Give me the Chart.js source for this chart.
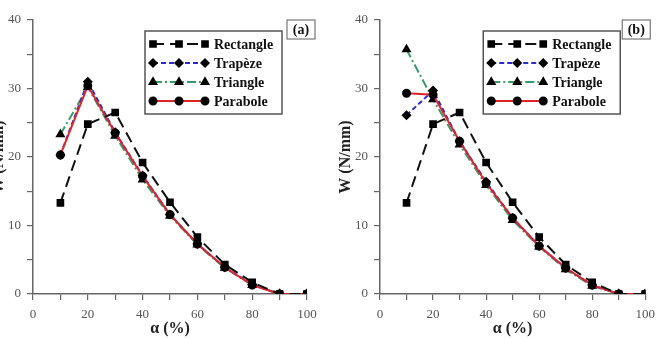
<!DOCTYPE html>
<html>
<head>
<meta charset="utf-8">
<script src="https://cdn.jsdelivr.net/npm/chart.js@4"></script>
<style>
  html, body { margin: 0; padding: 0; background: #fff; overflow: hidden; }
  #wrap { position: relative; width: 662px; height: 338px; overflow: hidden; }
  .box { position: absolute; top: 0; height: 338px; }
</style>
</head>
<body>
<div id="wrap">
  <div class="box" style="left:-16px;width:347px"><canvas id="chartA" width="347" height="338"></canvas></div>
  <div class="box" style="left:331px;width:331px"><canvas id="chartB" width="331" height="338"></canvas></div>
</div>
<script>
var alpha = [10, 20, 30, 40, 50, 60, 70, 80, 90, 100];

var rectangleA = [13.3, 24.8, 26.5, 19.2, 13.4, 8.3, 4.3, 1.7, 0, 0];
var trapezeA   = [20.3, 31.0, 23.6, 17.3, 11.6, 7.3, 3.9, 1.4, 0, 0];
var triangleA  = [23.3, 30.2, 23.1, 16.7, 11.4, 7.2, 3.8, 1.3, 0, 0];
var paraboleA  = [20.3, 30.4, 23.5, 17.2, 11.6, 7.3, 3.9, 1.3, 0, 0];

var rectangleB = [13.3, 24.8, 26.5, 19.2, 13.4, 8.3, 4.3, 1.7, 0, 0];
var trapezeB   = [26.1, 29.7, 22.3, 16.4, 11.1, 7.0, 3.8, 1.3, 0, 0];
var triangleB  = [35.7, 28.4, 21.8, 15.9, 10.8, 6.9, 3.6, 1.2, 0, 0];
var paraboleB  = [29.3, 29.1, 22.3, 16.2, 11.1, 7.0, 3.8, 1.3, 0, 0];

var xTicks = [0, 20, 40, 60, 80, 100];
var yTicks = [0, 10, 20, 30, 40];

var serif = "'Liberation Serif', 'Times New Roman', serif";
var axisColor = '#666';

function pts(ys) {
    return alpha.map(function (a, i) { return { x: a, y: ys[i] }; });
}

// legend box + panel tag drawn inside the plot area
var legendBox = {
    id: 'legendBox',
    afterDatasetsDraw: function (chart, args, opts) {
        var ctx = chart.ctx;
        var area = chart.chartArea;
        ctx.save();

        // tag "(a)" / "(b)"
        var tx = area.right + opts.tagShift - 28;
        ctx.fillStyle = '#fff';
        ctx.fillRect(tx, area.top, 28, 19);
        ctx.strokeStyle = '#777';
        ctx.lineWidth = 1.2;
        ctx.strokeRect(tx, area.top, 28, 19);
        ctx.fillStyle = '#111';
        ctx.font = 'bold 14px ' + serif;
        ctx.textAlign = 'center';
        ctx.textBaseline = 'middle';
        ctx.fillText(opts.tag, tx + 14, area.top + 10);

        // legend frame
        var w = 137, h = 83;
        var left = area.right - 25 - w;
        var top = area.top + 11;
        ctx.fillStyle = '#fff';
        ctx.fillRect(left, top, w, h);
        ctx.strokeStyle = '#555';
        ctx.lineWidth = 1.5;
        ctx.strokeRect(left, top, w, h);

        chart.data.datasets.forEach(function (ds, row) {
            var y = top + 13 + row * 19;
            var x0 = left + 8, x1 = left + 60;
            ctx.strokeStyle = ds.borderColor;
            ctx.lineWidth = 2;
            ctx.setLineDash(ds.borderDash || []);
            ctx.beginPath();
            ctx.moveTo(x0, y);
            ctx.lineTo(x1, y);
            ctx.stroke();
            ctx.setLineDash([]);
            ctx.fillStyle = '#000';
            ctx.strokeStyle = '#000';
            [x0, (x0 + x1) / 2, x1].forEach(function (px) {
                Chart.helpers.drawPoint(ctx, {
                    pointStyle: ds.pointStyle,
                    radius: ds.pointRadius,
                    rotation: 0,
                    borderWidth: 1
                }, px, y);
            });
            ctx.fillStyle = '#111';
            ctx.font = 'bold 14px ' + serif;
            ctx.textAlign = 'left';
            ctx.textBaseline = 'middle';
            ctx.fillText(ds.label, left + 69, y + 1);
        });
        ctx.restore();
    }
};

function makeChart(id, tag, tagShift, padRight, rect, trap, tri, para) {
    var ctx = document.getElementById(id).getContext('2d');
    return new Chart(ctx, {
        type: 'line',
        data: {
            datasets: [
                {
                    label: 'Rectangle',
                    data: pts(rect),
                    borderColor: '#111',
                    borderWidth: 2,
                    borderDash: [11, 6],
                    pointStyle: 'rect',
                    pointRadius: 4,
                    pointBackgroundColor: '#000',
                    pointBorderColor: '#000',
                    order: 0
                },
                {
                    label: 'Trapèze',
                    data: pts(trap),
                    borderColor: '#2a2ad0',
                    borderWidth: 2,
                    borderDash: [5, 3],
                    pointStyle: 'rectRot',
                    pointRadius: 3.6,
                    pointBackgroundColor: '#000',
                    pointBorderColor: '#000',
                    order: 2
                },
                {
                    label: 'Triangle',
                    data: pts(tri),
                    borderColor: '#3a9a6c',
                    borderWidth: 2,
                    borderDash: [9, 3, 2, 3],
                    pointStyle: 'triangle',
                    pointRadius: 3.8,
                    pointBackgroundColor: '#000',
                    pointBorderColor: '#000',
                    order: 3
                },
                {
                    label: 'Parabole',
                    data: pts(para),
                    borderColor: '#e0252a',
                    borderWidth: 2,
                    pointStyle: 'circle',
                    pointRadius: 3.5,
                    pointBackgroundColor: '#000',
                    pointBorderColor: '#000',
                    order: 1
                }
            ]
        },
        options: {
            responsive: false,
            animation: false,
            layout: {
                padding: { left: 0, right: padRight, top: 20, bottom: 0 }
            },
            scales: {
                x: {
                    type: 'linear',
                    min: 0,
                    max: 100,
                    afterFit: function (s) { s.height = 44; },
                    ticks: {
                        stepSize: 10,
                        padding: 7,
                        color: '#555',
                        font: { family: serif, size: 13 },
                        callback: function (v) { return xTicks.indexOf(v) >= 0 ? v : ''; }
                    },
                    grid: { drawOnChartArea: false, tickLength: 6, color: axisColor, lineWidth: 1.2 },
                    border: { color: axisColor, width: 1.5 },
                    title: {
                        display: true,
                        text: 'α (%)',
                        color: '#222',
                        font: { family: serif, size: 16, weight: 'bold' },
                        padding: { top: 0, bottom: 0 }
                    }
                },
                y: {
                    min: 0,
                    max: 40,
                    afterFit: function (s) { s.width = 49; },
                    ticks: {
                        stepSize: 5,
                        padding: 6,
                        color: '#555',
                        font: { family: serif, size: 13 },
                        callback: function (v) { return yTicks.indexOf(v) >= 0 ? v : ''; }
                    },
                    grid: { drawOnChartArea: false, tickLength: 6, color: axisColor, lineWidth: 1.2 },
                    border: { color: axisColor, width: 1.5 },
                    title: {
                        display: true,
                        text: 'W (N/mm)',
                        color: '#222',
                        font: { family: serif, size: 16, weight: 'bold' },
                        padding: { top: 5, bottom: 0 }
                    }
                }
            },
            plugins: {
                legend: { display: false },
                tooltip: { enabled: false },
                legendBox: { tag: tag, tagShift: tagShift }
            }
        },
        plugins: [legendBox]
    });
}

makeChart('chartA', '(a)', 8, 24, rectangleA, trapezeA, triangleA, paraboleA);
makeChart('chartB', '(b)', 5, 13, rectangleB, trapezeB, triangleB, paraboleB);
</script>
</body>
</html>
